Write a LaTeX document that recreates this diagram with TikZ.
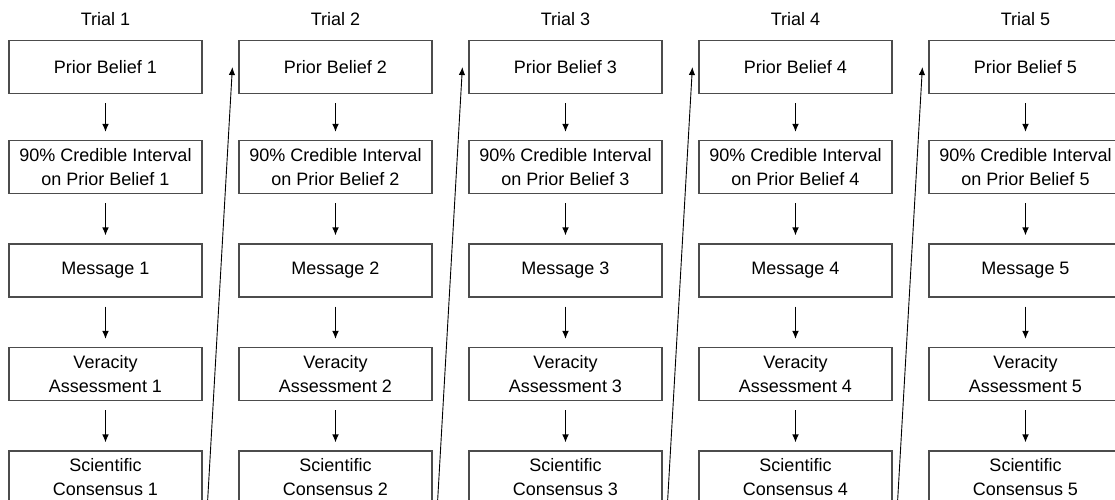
\documentclass[tikz,border=0pt]{standalone}
\usepackage{fontspec}
\setmainfont{Liberation Sans}
\usepackage{tikz}
\usetikzlibrary{arrows.meta}

\tikzset{
  stage/.style={draw=black!70, line width=0.6pt, minimum width=96.5pt,
    minimum height=26.5pt, inner sep=0pt, align=center,
    font=\fontsize{9}{12}\selectfont},
  trialtitle/.style={font=\fontsize{9}{12}\selectfont},
  flow/.style={-{Latex[length=4pt,width=3.4pt]}, line width=0.6pt,
    shorten <=4.5pt, shorten >=4pt},
  jump/.style={-{Latex[length=4pt,width=3.2pt]}, line width=0.45pt},
}

\begin{document}
\begin{tikzpicture}[x=0.5pt, y=-0.5pt]
\useasboundingbox (0,0) rectangle (1115,499);
\clip (0,0) rectangle (1115,499);

% One column of stages per trial
\foreach \i in {1,...,5} {
    \pgfmathsetmacro{\x}{105.5 + 230*(\i-1)}
    \node[trialtitle] (title\i) at (\x,19) {Trial \i};
    \node[stage] (prior\i) at (\x,67) {Prior Belief \i};
    \node[stage] (cred\i) at (\x,167) {90\% Credible Interval\\on Prior Belief \i};
    \node[stage] (msg\i) at (\x,270.5) {Message \i};
    \node[stage] (ver\i) at (\x,374) {Veracity\\Assessment \i};
    \node[stage] (sci\i) at (\x,477.5) {Scientific\\Consensus \i};
    \draw[flow] (prior\i) -- (cred\i);
    \draw[flow] (cred\i) -- (msg\i);
    \draw[flow] (msg\i) -- (ver\i);
    \draw[flow] (ver\i) -- (sci\i);
}

% Consensus feeds the next trial's prior
\foreach \i [evaluate=\i as \j using int(\i+1)] in {1,...,4} {
    \draw[jump] ([xshift=2.4pt]sci\i.south east) -- ([xshift=-3pt]prior\j.west);
}
\end{tikzpicture}
\end{document}
